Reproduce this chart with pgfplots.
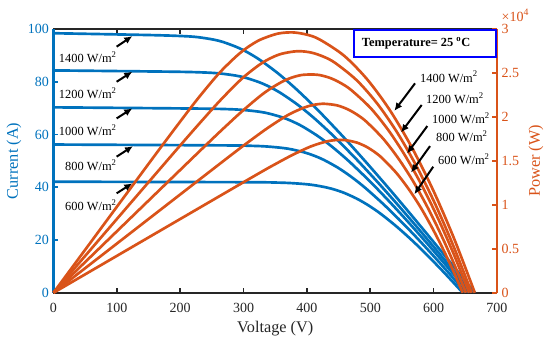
\documentclass[border=0pt]{standalone}
\usepackage{fontspec}
\setmainfont{Liberation Serif}
\usepackage{pgfplots}
\pgfplotsset{compat=1.18}
\usetikzlibrary{arrows.meta}
\definecolor{mblue}{RGB}{0,114,189}
\definecolor{morange}{RGB}{217,83,25}
\definecolor{maxis}{RGB}{38,38,38}
\newcommand{\tickfont}{\fontsize{10.5}{12}\selectfont}
\newcommand{\labfont}{\fontsize{12.2}{14}\selectfont}
\newcommand{\annfont}{\fontsize{9.3}{11}\selectfont}
\begin{document}
\begin{tikzpicture}
\begin{axis}[
  name=ax1,
  width=332.6pt, height=197.8pt, scale only axis,
  xmin=0, xmax=700, ymin=0, ymax=100,
  xtick={0,100,...,700}, ytick={0,20,...,100},
  ytick pos=left,
  separate axis lines,
  x axis line style={draw=maxis, line width=1.4pt},
  y axis line style={draw=mblue, line width=1.6pt},
  tick align=inside,
  major tick length=3.5pt,
  x tick style={draw=maxis, line width=1.2pt},
  y tick style={draw=mblue, line width=1.2pt},
  /pgf/number format/assume math mode=true,
  xticklabel style={font=\tickfont, text=maxis, yshift=-4pt},
  yticklabel style={font=\tickfont, text=mblue},
  xlabel={Voltage (V)},
  xlabel style={font=\labfont, text=maxis, at={(axis description cs:0.5,-0.134)}, anchor=center},
  ylabel={Current (A)},
  ylabel style={font=\labfont, text=mblue, at={(axis description cs:-0.089,0.5)}, anchor=center},
  every axis plot/.append style={line width=2pt, smooth},
]
\addplot[mblue] coordinates {(0,98.4) (152.4,97.70) (204.1,97.31) (227.4,96.92) (252.2,96.00) (267.8,95.06) (289.7,93.10) (306.3,91.14) (326.3,88.20) (353.8,83.30) (377.7,78.40) (399.5,73.50) (420.0,68.60) (458.6,58.80) (495.2,49.00) (530.6,39.20) (565.0,29.40) (598.8,19.60) (632.1,9.80) (665,0)};
\addplot[mblue] coordinates {(0,84.3) (189.7,83.80) (241.2,83.48) (264.3,83.10) (288.6,82.30) (303.8,81.48) (324.9,79.80) (340.6,78.12) (359.4,75.60) (384.8,71.40) (406.6,67.20) (426.2,63.00) (444.6,58.80) (479.0,50.40) (511.4,42.00) (542.5,33.60) (572.7,25.20) (602.3,16.80) (631.3,8.40) (660,0)};
\addplot[mblue] coordinates {(0,70.3) (227.9,69.83) (279.3,69.58) (302.1,69.25) (326.0,68.60) (340.8,67.90) (361.1,66.50) (375.9,65.10) (393.4,63.00) (416.7,59.50) (436.4,56.00) (453.9,52.50) (470.2,49.00) (500.4,42.00) (528.5,35.00) (555.4,28.00) (581.4,21.00) (606.7,14.00) (631.6,7.00) (656,0)};
\addplot[mblue] coordinates {(0,56.2) (265.2,55.88) (316.3,55.68) (339.0,55.42) (362.5,54.88) (376.9,54.32) (396.2,53.20) (410.2,52.08) (426.5,50.40) (447.7,47.60) (465.2,44.80) (480.7,42.00) (494.8,39.20) (520.7,33.60) (544.6,28.00) (567.4,22.40) (589.1,16.80) (610.2,11.20) (630.8,5.60) (651,0)};
\addplot[mblue] coordinates {(0,42.1) (302.4,41.92) (353.4,41.77) (375.8,41.57) (398.9,41.16) (412.9,40.74) (431.4,39.90) (444.5,39.06) (459.5,37.80) (478.6,35.70) (494.0,33.60) (507.4,31.50) (519.4,29.40) (541.1,25.20) (560.8,21.00) (579.3,16.80) (596.7,12.60) (613.6,8.40) (630.0,4.20) (646,0)};
\end{axis}
\begin{axis}[
  width=332.6pt, height=197.8pt, scale only axis,
  xmin=0, xmax=700, ymin=0, ymax=30000,
  axis x line=none, axis y line*=right,
  y axis line style={draw=morange, line width=1.6pt},
  tick align=inside,
  major tick length=3.5pt,
  y tick style={draw=morange, line width=1.2pt},
  ytick={0,5000,10000,15000,20000,25000,30000},
  yticklabels={0,0.5,1,1.5,2,2.5,3},
  scaled y ticks=false,
  yticklabel style={font=\tickfont, text=morange},
  ylabel={Power (W)},
  ylabel style={font=\labfont, text=morange, at={(axis description cs:1.088,0.5)}, anchor=center},
  clip=false,
  every axis plot/.append style={line width=2pt, smooth},
]
\addplot[morange] coordinates {(0,0) (152.4,14890) (204.1,19861) (227.4,22040) (252.2,24211) (267.8,25457) (289.7,26971) (306.3,27916) (326.3,28780) (353.8,29472) (377.7,29612) (399.5,29363) (420.0,28812) (458.6,26966) (495.2,24265) (530.6,20800) (565.0,16611) (598.8,11736) (632.1,6195) (665,0)};
\addplot[morange] coordinates {(0,0) (189.7,15897) (241.2,20135) (264.3,21963) (288.6,23752) (303.8,24754) (324.9,25927) (340.6,26608) (359.4,27171) (384.8,27475) (406.6,27324) (426.2,26851) (444.6,26142) (479.0,24142) (511.4,21479) (542.5,18228) (572.7,14432) (602.3,10119) (631.3,5303) (660,0)};
\addplot[morange] coordinates {(0,0) (227.9,15914) (279.3,19434) (302.1,20920) (326.0,22364) (340.8,23140) (361.1,24013) (375.9,24471) (393.4,24784) (416.7,24794) (436.4,24438) (453.9,23830) (470.2,23040) (500.4,21017) (528.5,18498) (555.4,15551) (581.4,12209) (606.7,8494) (631.6,4421) (656,0)};
\addplot[morange] coordinates {(0,0) (265.2,14819) (316.3,17611) (339.0,18787) (362.5,19894) (376.9,20473) (396.2,21078) (410.2,21363) (426.5,21496) (447.7,21311) (465.2,20841) (480.7,20189) (494.8,19396) (520.7,17496) (544.6,15249) (567.4,12710) (589.1,9897) (610.2,6834) (630.8,3532) (651,0)};
\addplot[morange] coordinates {(0,0) (302.4,12677) (353.4,14761) (375.8,15622) (398.9,16419) (412.9,16821) (431.4,17213) (444.5,17362) (459.5,17369) (478.6,17086) (494.0,16598) (507.4,15983) (519.4,15270) (541.1,13636) (560.8,11777) (579.3,9732) (596.7,7518) (613.6,5154) (630.0,2646) (646,0)};
\begin{scope}[-{Latex[length=6pt,width=5.5pt]}, line width=1.5pt, black]
\draw (axis cs:99.7,27990) -- (axis cs:124.4,29190);
\draw (axis cs:99.7,24000) -- (axis cs:124.4,25140);
\draw (axis cs:99.7,19830) -- (axis cs:124.4,20970);
\draw (axis cs:99.7,15480) -- (axis cs:125.5,16680);
\draw (axis cs:99.7,11310) -- (axis cs:124.4,12450);
\draw (axis cs:570.6,23820) -- (axis cs:538,20690);
\draw (axis cs:581.1,21360) -- (axis cs:548.6,18230);
\draw (axis cs:590.0,18960) -- (axis cs:558.0,15830);
\draw (axis cs:594.3,16680) -- (axis cs:564.3,13670);
\draw (axis cs:599.4,14340) -- (axis cs:569.6,11210);
\end{scope}
\begin{scope}[every node/.style={font=\annfont, text=black, inner sep=0pt}]
\node[anchor=east] at (axis cs:100.2,26820) {1400 W/m\textsuperscript{2}};
\node[anchor=east] at (axis cs:100.2,22710) {1200 W/m\textsuperscript{2}};
\node[anchor=east] at (axis cs:100.2,18510) {1000 W/m\textsuperscript{2}};
\node[anchor=east] at (axis cs:100.2,14520) {800 W/m\textsuperscript{2}};
\node[anchor=east] at (axis cs:100.2,9990) {600 W/m\textsuperscript{2}};
\node[anchor=west] at (axis cs:578.3,24570) {1400 W/m\textsuperscript{2}};
\node[anchor=west] at (axis cs:587.8,22110) {1200 W/m\textsuperscript{2}};
\node[anchor=west] at (axis cs:597.3,19830) {1000 W/m\textsuperscript{2}};
\node[anchor=west] at (axis cs:603.6,17760) {800 W/m\textsuperscript{2}};
\node[anchor=west] at (axis cs:606.8,15180) {600 W/m\textsuperscript{2}};
\end{scope}
\draw[blue, line width=1.6pt, fill=white] (axis cs:474,29850) rectangle (axis cs:698.4,26790);
\node[anchor=west, font=\annfont\bfseries, inner sep=0pt] at (axis cs:486.4,28350) {Temperature= 25 \textsuperscript{o}C};
\node[anchor=base west, font=\tickfont, text=morange, inner sep=0pt] at (axis description cs:1.01,1.03) {×10\textsuperscript{4}};
\end{axis}
\pgfresetboundingbox
\path[use as bounding box] ([xshift=-40.1pt,yshift=-37pt]ax1.south west) rectangle ([xshift=39.75pt,yshift=21.75pt]ax1.north east);
\end{tikzpicture}
\end{document}
